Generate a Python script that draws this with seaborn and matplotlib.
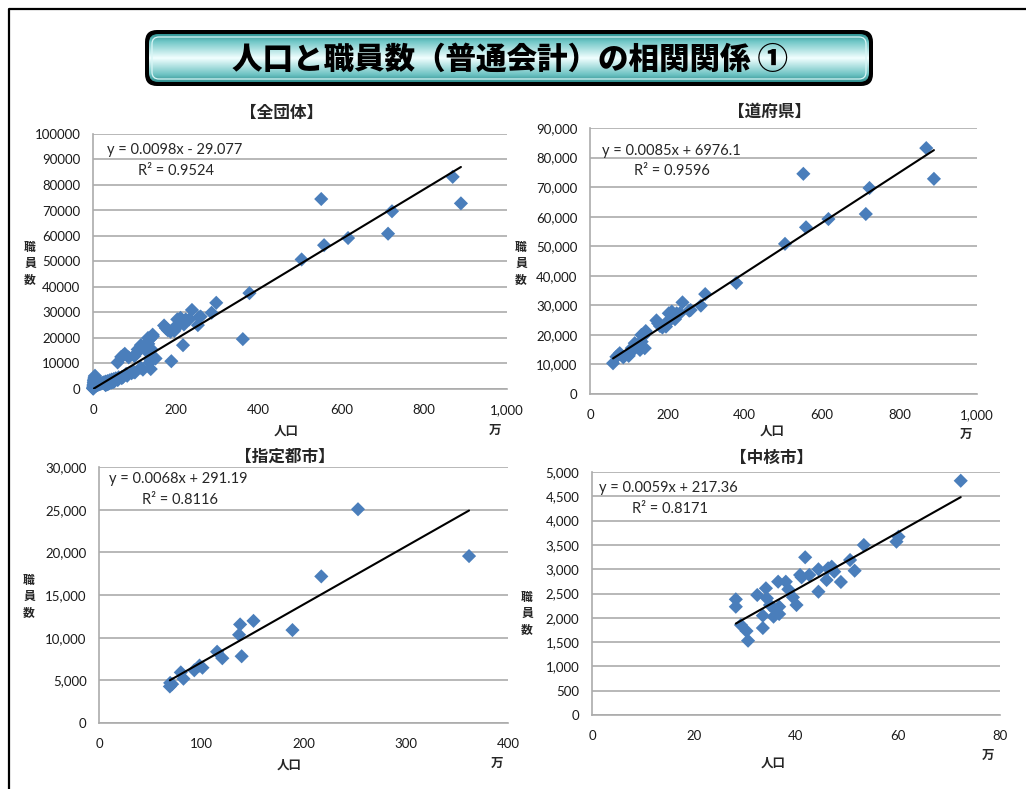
import numpy as np
import pandas as pd
import matplotlib
matplotlib.use("Agg")
import matplotlib.pyplot as plt
import seaborn as sns
from matplotlib.patches import FancyBboxPatch
from matplotlib.colors import LinearSegmentedColormap
from matplotlib.ticker import FuncFormatter, MultipleLocator

# ---------------- data (population in 万人, staff count) ----------------
pref_pop = [59.5, 68.2, 73.2, 76.8, 86.1, 100.1, 103.4, 107.9, 112.0, 115.6,
            122.3, 129.2, 133.5, 132.9, 137.8, 141.5, 144.1, 144.7, 171.7, 176.0,
            180.9, 187.2, 196.4, 197.6, 203.6, 207.9, 211.4, 219.6, 224.0, 232.1,
            239.0, 256.3, 260.0, 286.5, 297.7, 377.9, 503.9, 551.3, 558.2, 616.1,
            712.7, 722.2, 868.9, 888.7]
pref_staff = [10400, 12600, 13200, 13800, 12400, 12900, 13800, 15500, 15400, 17200,
              16600, 14900, 17700, 20000, 19600, 15500, 21300, 20700, 24900, 23900,
              23000, 22500, 22800, 24200, 27300, 25100, 27900, 25300, 27300, 27300,
              31000, 28200, 28400, 29900, 33800, 37600, 50800, 74500, 56400, 59200,
              60900, 69700, 83200, 72800]

city_pop = [69.3, 69.6, 71.5, 80.0, 82.6, 93.2, 98.3, 101.2, 115.5, 120.6,
            137.0, 138.0, 139.5, 151.1, 189.2, 217.4, 253.3, 361.9]
city_staff = [4280, 4700, 4550, 5930, 5190, 6180, 6730, 6480, 8350, 7590,
              10340, 11550, 7820, 11970, 10890, 17180, 25050, 19560]

core_pop = [28.2, 28.2, 29.2, 30.3, 30.6, 32.4, 33.5, 33.5, 34.1, 34.3,
            34.9, 35.6, 35.9, 36.7, 36.7, 36.5, 38.0, 38.5, 39.4, 40.1,
            40.8, 41.1, 41.8, 42.6, 44.4, 44.4, 46.0, 46.3, 47.0, 47.5,
            48.8, 50.6, 51.5, 53.3, 59.7, 60.1, 72.3]
core_staff = [2380, 2228, 1852, 1728, 1529, 2469, 1790, 2044, 2607, 2401,
              2263, 2023, 2160, 2228, 2078, 2743, 2743, 2586, 2422, 2263,
              2881, 2833, 3245, 2881, 2998, 2537, 2778, 3018, 3052, 2949,
              2737, 3189, 2969, 3498, 3566, 3669, 4820]

other_pop = [0.3, 0.5, 0.8, 1.0, 1.3, 1.6, 2.0, 2.4, 2.8, 3.2,
             3.6, 4.0, 4.5, 5.0, 5.6, 6.3, 7.0, 8.0, 9.2, 10.5,
             12.0, 13.5, 15.0, 17.0, 19.0, 21.0, 23.5, 26.0, 2.2, 2.9,
             3.5, 4.1, 4.8, 1.8, 2.6, 3.3, 5.5, 6.0, 0.9, 1.4,
             30.0, 35.0, 40.0, 45.0, 50.0, 55.0, 62.0]
other_staff = [150, 250, 350, 500, 650, 800, 950, 1100, 1250, 1400,
               1500, 1600, 1750, 1850, 1900, 2000, 1300, 1450, 1500, 1650,
               1700, 1800, 1900, 2000, 2100, 2250, 2400, 2600, 3300, 3800,
               4300, 4700, 5200, 2600, 2100, 3000, 2800, 2400, 1200, 1700,
               2900, 3100, 3400, 3700, 3900, 4200, 4600]

eq_slope = ["0.0098", "0.0085", "0.0068", "0.0059"]
eq_intercept = [-29.077, 6976.1, 291.19, 217.36]
r_squared = ["0.9524", "0.9596", "0.8116", "0.8171"]
panel_titles = ["【全団体】", "【道府県】", "【指定都市】", "【中核市】"]

# ---------------- style ----------------
sns.set_theme(style="white")
plt.rcParams['font.family'] = ['Lato', 'Noto Sans CJK JP', 'DejaVu Sans']
JP = ['Noto Sans CJK JP', 'DejaVu Sans']
BLUE = "#4A7EBB"
GRID = "#ABABAB"

W, H = 1026, 789
fig = plt.figure(figsize=(W / 100, H / 100), dpi=100)


def fpos(x, y):
    return x / W, 1 - y / H


# background layer: outer frame and heading banner
bg = fig.add_axes([0, 0, 1, 1], zorder=0)
bg.plot([9, 9, W + 10], [H + 10, 9, 9], color='black', lw=1.6, clip_on=False)

bx0, by0, bx1, by1 = 145, 30, 873, 86
bg.add_patch(FancyBboxPatch((bx0, by0), bx1 - bx0, by1 - by0,
                            boxstyle="round,pad=0,rounding_size=12",
                            fc='black', ec='none', zorder=1))
inner = FancyBboxPatch((bx0 + 4, by0 + 4), bx1 - bx0 - 8, by1 - by0 - 8,
                       boxstyle="round,pad=0,rounding_size=9",
                       fc='none', ec='none', zorder=1)
bg.add_patch(inner)
cmap = LinearSegmentedColormap.from_list(
    "banner", [(0, '#309494'), (0.15, '#6FC6C6'), (0.5, '#F2FFFF'),
               (0.85, '#6CC2C2'), (1, '#2E8E8E')])
grad = np.linspace(0, 1, 256).reshape(-1, 1)
img = bg.imshow(grad, cmap=cmap, aspect='auto', origin='upper',
                extent=[bx0 + 4, bx1 - 4, by1 - 4, by0 + 4], zorder=2)
img.set_clip_path(inner)
bg.add_patch(FancyBboxPatch((bx0 + 7, by0 + 7), bx1 - bx0 - 14, by1 - by0 - 14,
                            boxstyle="round,pad=0,rounding_size=7",
                            fc='none', ec='#D8F6F6', lw=0.9, zorder=3))
bg.set_xlim(0, W)
bg.set_ylim(H, 0)
bg.axis('off')
bg.text((bx0 + bx1) / 2 + 1, (by0 + by1) / 2 + 1, "人口と職員数（普通会計）の相関関係 ①",
        ha='center', va='center', fontsize=22, fontweight='black',
        family=JP, color='black', zorder=4)


def comma(v, _):
    return f"{int(v):,}"


def plain(v, _):
    return f"{int(v)}"


def panel(rect_px, pop, staff, k, xmax, xstep, ymax, ystep, yfmt,
          title_xy, eq_xy, r2_xy, ylab_xy, xlab_xy, man_xy):
    l, t, r, b = rect_px
    ax = fig.add_axes([l / W, 1 - b / H, (r - l) / W, (b - t) / H], zorder=2)
    ax.patch.set_alpha(0)
    df = pd.DataFrame({"pop": pop, "staff": staff})
    sns.scatterplot(data=df, x="pop", y="staff", marker="D", s=52,
                    color=BLUE, edgecolor="none", linewidth=0, ax=ax,
                    clip_on=False, zorder=3)
    # linear trend line from the fitted equation (x in persons)
    xs = np.array([df["pop"].min(), df["pop"].max()])
    ax.plot(xs, float(eq_slope[k]) * xs * 1e4 + eq_intercept[k],
            color='black', lw=1.5, zorder=4)

    ax.set_xlim(0, xmax)
    ax.set_ylim(0, ymax)
    ax.xaxis.set_major_locator(MultipleLocator(xstep))
    ax.yaxis.set_major_locator(MultipleLocator(ystep))
    ax.xaxis.set_major_formatter(FuncFormatter(comma))
    ax.yaxis.set_major_formatter(FuncFormatter(yfmt))
    ax.set_xlabel("")
    ax.set_ylabel("")
    ax.grid(False)
    ax.yaxis.grid(True, color=GRID, lw=1.2)
    ax.set_axisbelow(True)
    for s in ("top", "right"):
        ax.spines[s].set_visible(False)
    for s in ("left", "bottom"):
        ax.spines[s].set_color(GRID)
        ax.spines[s].set_linewidth(1.2)
    ax.tick_params(axis='both', direction='out', length=5, width=1.2,
                   color=GRID, labelsize=9.5, labelcolor='#1A1A1A')
    ax.tick_params(axis='x', pad=6)
    ax.tick_params(axis='y', pad=4)

    fig.text(*fpos(*title_xy), panel_titles[k], ha='center', va='center',
             fontsize=12, fontweight='bold', family=JP)
    b0 = eq_intercept[k]
    sign = "-" if b0 < 0 else "+"
    fig.text(*fpos(*eq_xy), f"y = {eq_slope[k]}x {sign} {abs(b0)}",
             ha='left', va='center', fontsize=10.5)
    fig.text(*fpos(*r2_xy), f"R² = {r_squared[k]}",
             ha='left', va='center', fontsize=10.5)
    for i, ch in enumerate("職員数"):
        fig.text(*fpos(ylab_xy[0], ylab_xy[1] + i * 16.5), ch, ha='center',
                 va='center', fontsize=8.5, fontweight='bold', family=JP)
    fig.text(*fpos(*xlab_xy), "人口", ha='center', va='center',
             fontsize=9, fontweight='bold', family=JP)
    fig.text(*fpos(*man_xy), "万", ha='center', va='center',
             fontsize=9, fontweight='bold', family=JP)
    return ax


all_pop = pref_pop + city_pop + core_pop + other_pop
all_staff = pref_staff + city_staff + core_staff + other_staff

panel((93, 134, 507, 389), all_pop, all_staff, 0, 1000, 200, 100000, 10000, plain,
      (282, 113), (107, 150), (138, 171), (30, 247), (286, 431), (495, 430))
panel((590, 128, 977, 394), pref_pop, pref_staff, 1, 1000, 200, 90000, 10000, comma,
      (770, 112), (602, 151), (634, 171), (521, 247), (772, 431), (966, 434))
panel((99, 467, 508, 723), city_pop, city_staff, 2, 400, 100, 30000, 5000, comma,
      (285, 457), (109, 479), (142, 500), (29, 580), (289, 765), (497, 763))
panel((592, 472, 1000, 715), core_pop, core_staff, 3, 80, 20, 5000, 500, comma,
      (772, 458), (599, 488), (632, 509), (527, 597), (773, 763), (988, 755))

fig.savefig("out.png", dpi=100)
